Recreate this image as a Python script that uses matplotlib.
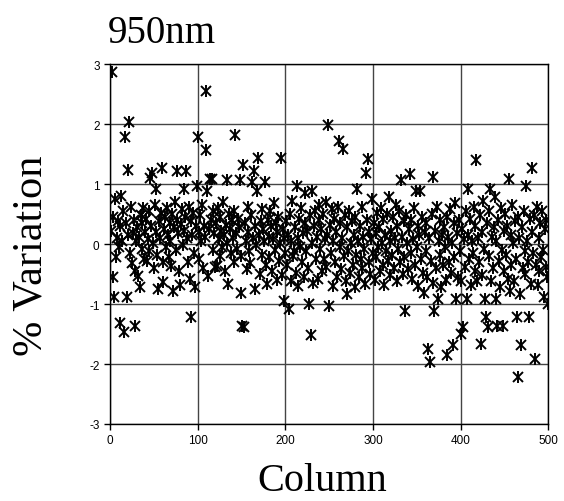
import numpy as np
import matplotlib
matplotlib.use("Agg")
from matplotlib import pyplot as plt
from matplotlib.ticker import FuncFormatter

# % variation for columns 1..500 (rows of 20 columns)
variation = [
    0.22, 2.86, 0.45, -0.55, -0.89, 0.75, -0.22, 0.10, 0.38, -0.05, -1.31, 0.30, 0.80, 0.05, 0.55, -1.47, 1.79, 0.35, -0.89, 0.15,
    1.23, 2.03, -0.15, 0.62, -0.31, 0.18, 0.40, -0.45, -1.36, 0.05, 0.28, -0.53, 0.12, -0.72, 0.48, -0.08, 0.35, 0.60, -0.25, 0.20,
    0.42, -0.28, 0.08, 0.55, -0.12, 1.10, 0.30, 1.19, 0.02, -0.40, 0.65, 0.20, 0.92, -0.18, -0.75, 0.38, 0.10, 0.52, 1.26, -0.30,
    -0.64, 0.25, 0.45, -0.05, 0.60, 0.15, -0.22, 0.35, 0.05, -0.36, 0.50, -0.78, 0.28, 0.70, -0.10, 1.21, 0.40, 0.18, -0.45, -0.69,
    0.33, 0.58, -0.02, 0.92, 0.22, 0.45, 1.21, 0.10, -0.30, 0.62, -0.58, -1.21, 0.38, 0.15, 0.52, -0.15, -0.72, 0.30, 0.97, 1.78,
    0.20, -0.25, 0.48, 0.05, 0.65, -0.40, 0.30, 0.12, 2.55, 1.57, 0.89, -0.53, 0.25, 1.08, 0.40, 1.08, -0.10, 0.55, 0.18, -0.39,
    0.35, -0.36, 0.60, 0.08, -0.20, 0.45, 0.22, -0.05, 0.70, 0.15, -0.45, 0.32, 1.07, 0.02, -0.67, 0.50, 0.25, -0.15, 0.40, 0.10,
    -0.30, 0.55, 1.82, 0.18, -0.08, 0.42, 0.28, 1.07, -0.81, -0.20, -1.37, 1.32, -1.38, 0.35, 0.05, -0.42, 0.62, 0.20, -0.12, -0.31,
    0.48, 1.03, 0.10, 1.22, -0.75, 0.30, -0.02, 0.89, 1.44, 0.15, -0.50, 0.38, 0.58, -0.18, 0.25, 0.05, 1.03, -0.35, -0.67, 0.40,
    0.12, -0.22, 0.55, 0.30, -0.45, 0.08, 0.68, -0.10, 0.35, -0.60, 0.20, 0.45, -0.28, 0.02, 1.43, -0.52, 0.25, -0.95, 0.10, -0.15,
    0.38, -0.35, 0.15, -1.08, 0.50, -0.62, 0.05, 0.72, -0.20, -0.11, 0.28, -0.48, 0.97, 0.10, -0.70, 0.42, -0.05, 0.60, -0.30, 0.18,
    -0.55, 0.35, 0.85, -0.12, 0.22, -0.40, -1.00, 0.48, -1.52, 0.89, 0.02, -0.65, 0.30, 0.55, -0.25, 0.12, -0.58, 0.40, 0.65, -0.08,
    0.25, -0.45, 0.50, -0.25, 0.08, 0.70, -0.38, 0.15, 1.99, -1.03, 0.32, -0.15, 0.58, -0.70, 0.05, 0.42, -0.30, 0.20, -0.55, 0.62,
    1.71, -0.05, 0.35, -0.42, 0.10, 1.58, -0.20, 0.48, -0.62, -0.83, 0.28, -0.12, 0.55, -0.48, 0.02, 0.38, -0.35, 0.15, -0.72, 0.45,
    -0.18, 0.92, 0.05, -0.55, 0.30, -0.25, 0.62, -0.40, 0.12, -0.08, -0.67, 1.19, 0.40, 1.42, -0.30, 0.20, -0.50, 0.08, 0.75, -0.15,
    0.35, -0.60, 0.18, -0.22, 0.52, -0.05, 0.28, -0.45, 0.60, 0.02, -0.35, 0.42, -0.68, 0.15, -0.12, 0.50, -0.28, 0.78, 0.05, -0.52,
    0.22, -0.18, 0.45, -0.40, 0.10, 0.65, -0.62, 0.30, -0.08, 0.55, -0.30, 1.07, 0.12, -0.50, 0.38, -0.22, -1.11, 0.48, 0.02, -0.42,
    0.25, 1.17, -0.15, 0.40, -0.58, 0.08, 0.60, -0.35, 0.89, -0.05, 0.30, -0.70, 0.15, 0.89, -0.25, 0.45, -0.48, -0.81, 0.20, -0.12,
    0.35, -0.55, -1.75, 0.10, -1.96, -0.28, 0.50, 1.12, -0.65, -1.11, 0.22, -0.40, 0.62, -0.92, 0.05, -0.18, 0.40, -0.72, 0.15, -0.35,
    0.28, -0.05, -0.60, 0.45, -1.85, 0.12, -0.30, 0.58, -0.48, 0.02, -1.69, 0.35, -0.22, 0.68, -0.92, 0.18, -0.55, 0.40, -0.12, -1.50,
    -0.61, 0.25, -1.39, 0.08, -0.38, 0.55, -0.92, 0.15, 0.92, -0.25, 0.42, -0.68, 0.05, -0.15, 0.62, -0.45, 0.30, 1.40, -0.61, 0.10,
    -0.30, 0.48, -1.67, 0.20, -0.52, 0.72, -0.08, -0.92, -1.22, 0.35, -1.39, -0.20, 0.55, 0.92, -0.61, 0.12, -0.40, 0.28, 0.78, -0.92,
    0.05, -1.37, 0.40, -0.28, -0.72, 0.60, -0.10, -1.37, 0.22, -0.45, 0.50, -0.18, 0.30, -0.58, 1.08, -0.78, 0.15, -0.35, 0.65, 0.02,
    -0.61, 0.38, -0.25, -1.22, 0.45, -2.22, 0.10, -0.83, -1.68, 0.28, -0.40, 0.55, -0.12, -0.50, 0.96, 0.05, -0.30, -1.21, 0.42, -0.67,
    0.20, 1.27, -0.15, 0.48, -1.92, -0.35, 0.62, -0.69, 0.10, -0.45, 0.35, -0.22, 0.55, -0.10, -0.89, 0.25, -0.38, 0.40, -0.55, -1.00,
]
column = np.arange(1, len(variation) + 1)

x_ticks = [0, 100, 200, 300, 400, 500]
y_ticks = [-3, -2, -1, 0, 1, 2, 3]

fig = plt.figure(figsize=(5.64, 5.02), dpi=100)
ax = fig.add_axes([0.195, 0.1534, 0.777, 0.717])

# Excel-style asterisk marker: an x with a vertical bar
ax.plot(column, variation, linestyle='none', marker='x', ms=7, mew=1.4, color='black', zorder=3)
ax.plot(column, variation, linestyle='none', marker='|', ms=8, mew=1.4, color='black', zorder=3)

ax.set_xlim(0, 500)
ax.set_ylim(-3, 3)
ax.set_xticks(x_ticks)
ax.set_yticks(y_ticks)
ax.yaxis.set_major_formatter(FuncFormatter(lambda v, p: '%d' % v))
ax.grid(True, color='#444444', linewidth=1.0)
ax.set_axisbelow(True)
for s in ax.spines.values():
    s.set_color('black')
    s.set_linewidth(1.0)
ax.tick_params(direction='out', length=4, width=1, labelsize=8.5, colors='black')
for lab in ax.get_xticklabels() + ax.get_yticklabels():
    lab.set_family('Liberation Sans')

fig.text(0.191, 0.914, '950nm', family='Liberation Serif', fontsize=28, ha='left', va='baseline')
fig.text(0.572, 0.022, 'Column', family='Liberation Serif', fontsize=29, ha='center', va='baseline')
fig.text(0.056, 0.49, '% Variation', family='Liberation Serif', fontsize=30.5, rotation=90,
         ha='center', va='center')

fig.savefig('out.png', dpi=100)
